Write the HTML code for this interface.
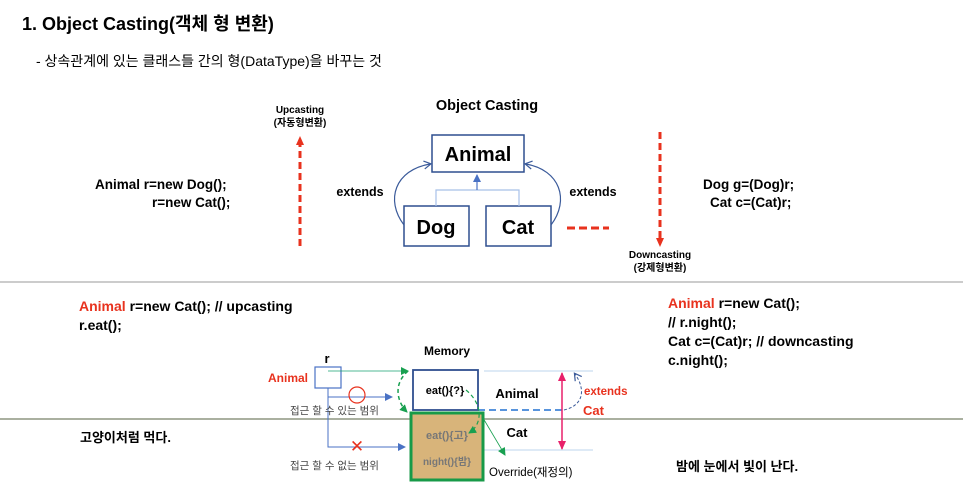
<!DOCTYPE html>
<html><head><meta charset="utf-8"><style>
body{margin:0;background:#fff;width:963px;height:492px;overflow:hidden}
svg{display:block}
text{font-family:"Liberation Sans","Noto Sans CJK KR",sans-serif}
.b{font-weight:bold}
</style></head><body>
<svg width="963" height="492" viewBox="0 0 963 492">
<defs>
<marker id="ab" markerUnits="userSpaceOnUse" markerWidth="10" markerHeight="10" refX="7" refY="5" orient="auto"><path d="M1,1 L8,5 L1,9" fill="none" stroke="#3a5a9a" stroke-width="1.2"/></marker>
<marker id="rt" markerUnits="userSpaceOnUse" markerWidth="10" markerHeight="10" refX="5" refY="5" orient="auto"><path d="M0,1 L9,5 L0,9z" fill="#e8321e"/></marker>
<marker id="bl" markerUnits="userSpaceOnUse" markerWidth="8" markerHeight="8" refX="7" refY="4" orient="auto"><path d="M0,0 L8,4 L0,8z" fill="#4a72c4"/></marker>
<marker id="gr" markerUnits="userSpaceOnUse" markerWidth="8" markerHeight="8" refX="7" refY="4" orient="auto"><path d="M0,0 L8,4 L0,8z" fill="#18a050"/></marker>
<marker id="pk" markerUnits="userSpaceOnUse" markerWidth="10" markerHeight="10" refX="8" refY="5" orient="auto"><path d="M0,1 L9,5 L0,9z" fill="#e8206a"/></marker>
<marker id="pks" markerUnits="userSpaceOnUse" markerWidth="10" markerHeight="10" refX="2" refY="5" orient="auto"><path d="M10,1 L1,5 L10,9z" fill="#e8206a"/></marker>
</defs>
<text x="22" y="30" class="b" font-size="18">1. Object Casting(객체 형 변환)</text>
<text x="36" y="66" font-size="14">- 상속관계에 있는 클래스들 간의 형(DataType)을 바꾸는 것</text>

<text x="300" y="113" class="b" font-size="10" text-anchor="middle">Upcasting</text>
<text x="300" y="126" class="b" font-size="10" text-anchor="middle">(자동형변환)</text>
<line x1="300" y1="246" x2="300" y2="140" stroke="#e8321e" stroke-width="3" stroke-dasharray="7,4" marker-end="url(#rt)"/>
<text x="660" y="258" class="b" font-size="10" text-anchor="middle">Downcasting</text>
<text x="660" y="271" class="b" font-size="10" text-anchor="middle">(강제형변환)</text>
<line x1="660" y1="132" x2="660" y2="243" stroke="#e8321e" stroke-width="3" stroke-dasharray="7,4" marker-end="url(#rt)"/>

<text x="487" y="110" class="b" font-size="14.5" text-anchor="middle">Object Casting</text>
<rect x="432" y="135" width="92" height="37" fill="#fff" stroke="#2f4f8f" stroke-width="1.5"/>
<text x="478" y="161" class="b" font-size="20" text-anchor="middle">Animal</text>
<rect x="404" y="206" width="65" height="40" fill="#fff" stroke="#2f4f8f" stroke-width="1.5"/>
<text x="436" y="234" class="b" font-size="20" text-anchor="middle">Dog</text>
<rect x="486" y="206" width="65" height="40" fill="#fff" stroke="#2f4f8f" stroke-width="1.5"/>
<text x="518" y="234" class="b" font-size="20" text-anchor="middle">Cat</text>
<path d="M436,206 V190 H519 V206" fill="none" stroke="#a8c0e8" stroke-width="1.2"/>
<line x1="477" y1="190" x2="477" y2="175" stroke="#4a72c4" stroke-width="1.2" marker-end="url(#bl)"/>
<path d="M404,225 C385,200 395,170 430,164" fill="none" stroke="#3a5a9a" stroke-width="1.2" marker-end="url(#ab)"/>
<path d="M551,225 C570,200 560,170 526,164" fill="none" stroke="#3a5a9a" stroke-width="1.2" marker-end="url(#ab)"/>
<text x="360" y="196" class="b" font-size="12.5" text-anchor="middle">extends</text>
<text x="593" y="196" class="b" font-size="12.5" text-anchor="middle">extends</text>
<line x1="567" y1="228" x2="609" y2="228" stroke="#e8321e" stroke-width="3" stroke-dasharray="8,4"/>

<text x="95" y="189" class="b" font-size="13.5">Animal r=new Dog();</text>
<text x="152" y="207" class="b" font-size="13.5">r=new Cat();</text>
<text x="703" y="189" class="b" font-size="13.5">Dog g=(Dog)r;</text>
<text x="710" y="207" class="b" font-size="13.5">Cat c=(Cat)r;</text>

<line x1="0" y1="282" x2="963" y2="282" stroke="#999" stroke-width="1"/>
<line x1="0" y1="419" x2="963" y2="419" stroke="#556040" stroke-width="1"/>

<text x="79" y="311" class="b" font-size="14"><tspan fill="#e8321e">Animal</tspan> r=new Cat(); // upcasting</text>
<text x="79" y="330" class="b" font-size="14">r.eat();</text>
<text x="668" y="308" class="b" font-size="14"><tspan fill="#e8321e">Animal</tspan> r=new Cat();</text>
<text x="668" y="327" class="b" font-size="14">// r.night();</text>
<text x="668" y="346" class="b" font-size="14">Cat c=(Cat)r; // downcasting</text>
<text x="668" y="365" class="b" font-size="14">c.night();</text>
<text x="80" y="442" class="b" font-size="13">고양이처럼 먹다.</text>
<text x="676" y="471" class="b" font-size="13">밤에 눈에서 빛이 난다.</text>

<text x="447" y="355" class="b" font-size="12" text-anchor="middle">Memory</text>
<text x="327" y="363" class="b" font-size="13" text-anchor="middle">r</text>
<text x="268" y="382" class="b" font-size="12" fill="#e8321e">Animal</text>
<rect x="315" y="367" width="26" height="21" fill="#fff" stroke="#4a72c4" stroke-width="1.2"/>
<line x1="328" y1="371" x2="408" y2="371" stroke="#18a070" stroke-width="0.8" marker-end="url(#gr)"/>
<path d="M328,388 V397 H392" fill="none" stroke="#4a72c4" stroke-width="1" marker-end="url(#bl)"/>
<path d="M328,397 V447 H405" fill="none" stroke="#4a72c4" stroke-width="1" marker-end="url(#bl)"/>
<circle cx="357" cy="395" r="8" fill="none" stroke="#e8321e" stroke-width="1.2"/>
<text x="357" y="452" font-size="17" fill="#e8321e" text-anchor="middle">✕</text>
<text x="290" y="414" font-size="10.5" fill="#444">접근 할 수 있는 범위</text>
<text x="290" y="469" font-size="10.5" fill="#444">접근 할 수 없는 범위</text>

<line x1="484" y1="371" x2="593" y2="371" stroke="#bcd6ec" stroke-width="1"/>
<line x1="484" y1="450" x2="593" y2="450" stroke="#bcd6ec" stroke-width="1"/>
<rect x="413" y="370" width="65" height="40" fill="#fff" stroke="#2f4f8f" stroke-width="1.8"/>
<text x="445" y="394" class="b" font-size="11" text-anchor="middle">eat(){?}</text>
<line x1="478" y1="410" x2="563" y2="410" stroke="#2070d0" stroke-width="1.5" stroke-dasharray="7,4"/>
<rect x="411" y="413" width="72" height="67" fill="#d8b47a" stroke="#189a48" stroke-width="3"/>
<text x="447" y="439" class="b" font-size="11" fill="#777" text-anchor="middle">eat(){고}</text>
<text x="447" y="465" class="b" font-size="10" fill="#777" text-anchor="middle">night(){밤}</text>
<text x="517" y="398" class="b" font-size="13" text-anchor="middle">Animal</text>
<text x="517" y="437" class="b" font-size="13" text-anchor="middle">Cat</text>
<text x="489" y="476" font-size="11.5">Override(재정의)</text>
<path d="M408,371 C392,385 398,403 407,412" fill="none" stroke="#18a050" stroke-width="1.5" stroke-dasharray="4,3" marker-end="url(#gr)"/>
<path d="M466,390 C484,405 482,425 469,433" fill="none" stroke="#18a050" stroke-width="1.2" stroke-dasharray="4,3" marker-end="url(#gr)"/>
<line x1="483" y1="418" x2="505" y2="455" stroke="#18a050" stroke-width="0.8" marker-end="url(#gr)"/>
<line x1="562" y1="373" x2="562" y2="449" stroke="#e8206a" stroke-width="1.5" marker-end="url(#pk)" marker-start="url(#pks)"/>
<path d="M564,410 C585,405 585,388 575,374" fill="none" stroke="#3a5a9a" stroke-width="1" stroke-dasharray="3,2" marker-end="url(#ab)"/>
<text x="584" y="395" class="b" font-size="11.5" fill="#e8321e">extends</text>
<text x="583" y="415" class="b" font-size="13" fill="#e8321e">Cat</text>
</svg>
</body></html>
